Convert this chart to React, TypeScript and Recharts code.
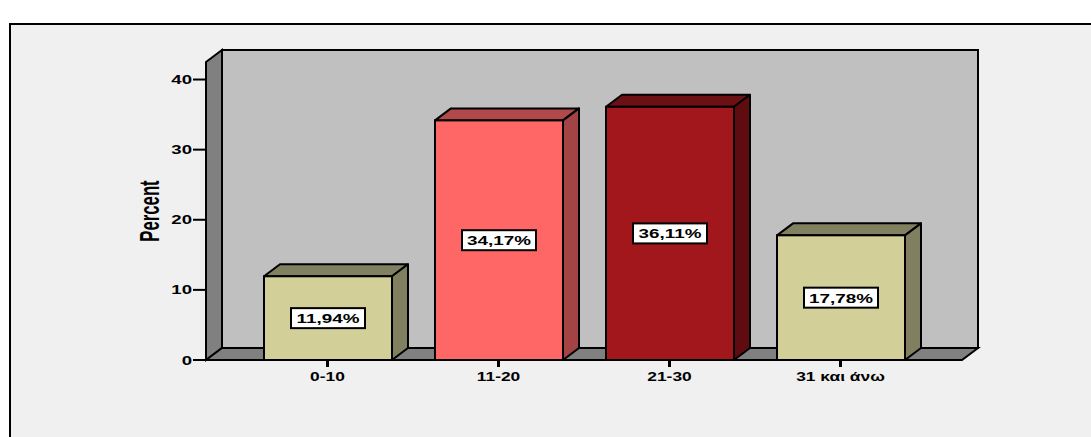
import React from "react";
import {
  BarChart,
  Bar,
  XAxis,
  YAxis,
  Cell,
  LabelList,
  ReferenceArea,
} from "recharts";

// age groups and their share of respondents
const ageGroups = ["0-10", "11-20", "21-30", "31 και άνω"];
const percents = [11.94, 34.17, 36.11, 17.78];
const yTicks = [0, 10, 20, 30, 40];

const frontColors = ["#d3cf98", "#ff6666", "#a1171c", "#d3cf98"];
const sideColors = ["#808060", "#a34343", "#5f0c10", "#808060"];
const topColors = ["#818161", "#b04a4a", "#6d1014", "#818161"];

const chartData = ageGroups.map((group, i) => ({
  group,
  value: percents[i],
  idx: i,
}));

const DX = 16;
const DY = 12;
const PAD = 36;
const FONT = "'Liberation Sans', Arial, sans-serif";

// back wall, left wall and floor of the 3d box
const Walls = (props: any) => {
  const x = props.x - PAD;
  const width = props.width + PAD * 2;
  const { y, height } = props;
  const r = x + width;
  const b = y + height;
  return (
    <g>
      <rect x={x + DX} y={y - DY} width={width} height={height} fill="#c0c0c0" stroke="#000" strokeWidth={2} />
      <polygon
        points={`${x},${y} ${x + DX},${y - DY} ${x + DX},${b - DY} ${x},${b}`}
        fill="#808080"
        stroke="#000"
        strokeWidth={2}
      />
      <polygon
        points={`${x},${b} ${x + DX},${b - DY} ${r + DX},${b - DY} ${r},${b}`}
        fill="#808080"
        stroke="#000"
        strokeWidth={2}
      />
    </g>
  );
};

const Box3D = (props: any) => {
  const { x, y, width: w, height: h, payload } = props;
  const i = payload.idx;
  return (
    <g>
      <polygon
        points={`${x},${y} ${x + DX},${y - DY} ${x + w + DX},${y - DY} ${x + w},${y}`}
        fill={topColors[i]}
        stroke="#000"
        strokeWidth={2}
        strokeLinejoin="round"
      />
      <polygon
        points={`${x + w},${y} ${x + w + DX},${y - DY} ${x + w + DX},${y + h - DY} ${x + w},${y + h}`}
        fill={sideColors[i]}
        stroke="#000"
        strokeWidth={2}
        strokeLinejoin="round"
      />
      <rect x={x} y={y} width={w} height={h} fill={frontColors[i]} stroke="#000" strokeWidth={2} />
    </g>
  );
};

// wide bold text, stretched horizontally
const WideText = ({ x, y, size, stretch, anchor, children }: any) => (
  <text
    transform={`translate(${x},${y}) scale(${stretch},1)`}
    textAnchor={anchor}
    fontFamily={FONT}
    fontWeight="bold"
    fontSize={size}
    fill="#000"
  >
    {children}
  </text>
);

const ValueTag = (props: any) => {
  const { x, y, width, height, value } = props;
  const cx = x + width / 2;
  const cy = y + height / 2;
  const text = value.toFixed(2).replace(".", ",") + "%";
  return (
    <g>
      <rect x={cx - 37} y={cy - 10} width={74} height={20} fill="#fff" stroke="#000" strokeWidth={2} />
      <WideText x={cx} y={cy + 5} size={13} stretch={1.45} anchor="middle">
        {text}
      </WideText>
    </g>
  );
};

const XTick = (props: any) => {
  const { x, y, payload } = props;
  return (
    <WideText x={x} y={y + 10} size={12} stretch={1.45} anchor="middle">
      {payload.value}
    </WideText>
  );
};

const YTick = (props: any) => {
  const { x, y, payload } = props;
  return (
    <WideText x={x} y={y + 4.5} size={12} stretch={1.55} anchor="end">
      {payload.value}
    </WideText>
  );
};

const AxisTitle = (props: any) => {
  const { viewBox } = props;
  const cy = viewBox.y + viewBox.height / 2;
  return (
    <text
      transform={`translate(159, ${cy}) rotate(-90) scale(0.62,1)`}
      textAnchor="middle"
      fontFamily={FONT}
      fontWeight="bold"
      fontSize={27}
      fill="#000"
    >
      Percent
    </text>
  );
};

export default function App() {
  return (
    <div style={{ position: "absolute", left: 0, top: 0, width: 1091, height: 437, background: "#fff", overflow: "hidden" }}>
      <div
        style={{
          position: "absolute",
          left: 9,
          top: 23,
          width: 1100,
          height: 440,
          border: "2px solid #000",
          background: "#f0f0f0",
        }}
      />
      <div style={{ position: "absolute", left: 0, top: 0 }}>
        <BarChart
          width={1091}
          height={437}
          data={chartData}
          margin={{ top: 62, right: 129, bottom: 47, left: 0 }}
          barSize={128}
        >
          <XAxis
            dataKey="group"
            height={30}
            padding={{ left: PAD, right: PAD }}
            axisLine={{ stroke: "#000", strokeWidth: 2 }}
            tickLine={{ stroke: "#000", strokeWidth: 3 }}
            tickSize={7}
            tickMargin={4}
            tick={<XTick />}
          />
          <YAxis
            width={206}
            domain={[0, 42.5]}
            ticks={yTicks}
            axisLine={{ stroke: "#000", strokeWidth: 2 }}
            tickLine={{ stroke: "#000", strokeWidth: 2 }}
            tickSize={13}
            tickMargin={1}
            tick={<YTick />}
            label={<AxisTitle />}
          />
          <ReferenceArea y1={0} y2={42.5} shape={<Walls />} ifOverflow="visible" />
          <Bar dataKey="value" shape={<Box3D />} isAnimationActive={false}>
            {chartData.map((d) => (
              <Cell key={d.group} fill={frontColors[d.idx]} />
            ))}
            <LabelList dataKey="value" content={<ValueTag />} />
          </Bar>
        </BarChart>
      </div>
    </div>
  );
}
